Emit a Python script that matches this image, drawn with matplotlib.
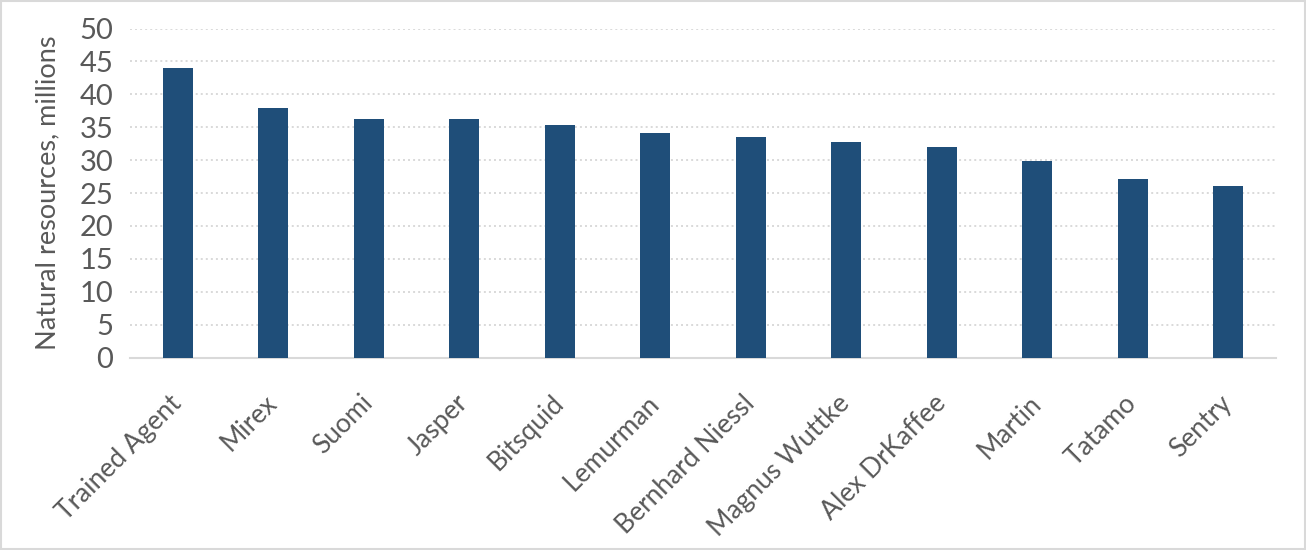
import matplotlib
matplotlib.use("Agg")
import matplotlib.pyplot as plt
import matplotlib.patches as mpatches

# data
players = ["Trained Agent", "Mirex", "Suomi", "Jasper", "Bitsquid", "Lemurman",
           "Bernhard Niessl", "Magnus Wuttke", "Alex DrKaffee", "Martin",
           "Tatamo", "Sentry"]
resources = [44.0, 38.0, 36.3, 36.3, 35.4, 34.2, 33.5, 32.8, 32.0, 29.9, 27.2, 26.1]

yticks = list(range(0, 51, 5))

plt.rcParams['font.family'] = ['Lato', 'DejaVu Sans']
text_col = "#595959"
grid_col = "#d9d9d9"
bar_col = "#1f4e79"

fig = plt.figure(figsize=(13.06, 5.5), dpi=100)
ax = fig.add_axes([0.0995, 0.35, 0.8775, 0.598])

x = range(len(players))
ax.bar(x, resources, width=0.31, color=bar_col, zorder=3)

ax.set_xlim(-0.5, len(players) - 0.5)
ax.set_ylim(0, 50)
ax.set_yticks(yticks)
ax.set_yticklabels([str(t) for t in yticks], fontsize=21, color=text_col)
ax.set_xticks(list(x))
ax.set_xticklabels(players, rotation=45, ha='right', va='center',
                   rotation_mode='anchor', fontsize=19, color=text_col)
ax.tick_params(axis='x', length=0, pad=30)
ax.tick_params(axis='y', length=0, pad=12)

ax.yaxis.grid(True, linestyle=(0, (1, 1.6)), color=grid_col, linewidth=1.4, zorder=0)
ax.set_axisbelow(True)
for s in ['top', 'right', 'left']:
    ax.spines[s].set_visible(False)
ax.spines['bottom'].set_color(grid_col)
ax.spines['bottom'].set_linewidth(1.5)

ax.set_ylabel("Natural resources, millions", fontsize=19.5, color=text_col, labelpad=14)

# light frame around the whole chart
fig.patches.append(mpatches.Rectangle((0.001, 0.002), 0.998, 0.996, transform=fig.transFigure,
                                      fill=False, edgecolor=grid_col, linewidth=1.5))

fig.savefig("out.png", dpi=100)
